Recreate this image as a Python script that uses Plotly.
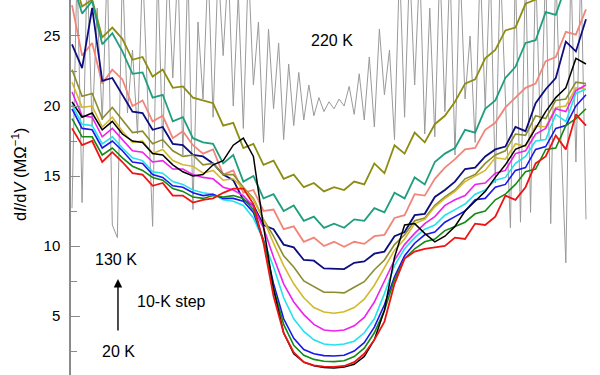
import plotly.graph_objects as go

# bias (arbitrary mV scale), 10-mV step for the colored curves, 5-mV step for 220 K
bias = list(range(-255, 256, 10))
bias_220 = list(range(-255, 256, 5))

didv_20K = [20.3, 19.2, 19.5, 18.3, 18.9, 18.0, 17.5, 17.4, 16.6, 16.5, 15.8, 15.3, 15.0, 15.1, 15.8, 16.1, 17.2, 17.7,
            16.4, 11.4, 6.9, 3.8, 2.3, 1.7, 1.45, 1.32, 1.29, 1.35, 1.55, 2.1, 3.3, 5.4, 9.2, 11.5, 11.6, 10.9,
            10.3, 10.7, 11.4, 12.5, 13.2, 13.9, 14.9, 15.8, 16.9, 17.2, 18.4, 19.6, 20.6, 21.3, 23.4, 23.0]
didv_30K = [18.4, 17.2, 17.5, 16.0, 16.7, 16.0, 15.2, 15.1, 14.3, 14.5, 13.6, 13.6, 13.1, 13.3, 13.4, 13.8, 14.1, 14.1,
            13.0, 10.2, 6.4, 3.8, 2.4, 1.7, 1.48, 1.39, 1.37, 1.43, 1.7, 2.3, 3.3, 4.6, 7.3, 9.1, 9.6, 9.8,
            9.9, 10.0, 10.6, 10.5, 11.6, 11.5, 12.1, 13.6, 13.3, 14.2, 15.9, 16.4, 17.9, 16.9, 19.4, 18.6]
didv_40K = [19.1, 17.8, 17.8, 16.5, 17.0, 16.3, 15.7, 15.4, 14.9, 14.7, 14.1, 13.9, 13.5, 13.4, 13.6, 13.5, 13.6, 13.4,
            12.6, 10.4, 7.0, 4.4, 2.9, 2.2, 1.9, 1.77, 1.74, 1.8, 2.1, 2.7, 3.8, 5.4, 7.6, 9.1, 9.8, 10.3,
            10.5, 11.1, 11.4, 11.7, 12.3, 12.5, 13.3, 13.7, 14.4, 15.3, 15.5, 16.9, 17.0, 18.6, 19.1, 19.8]
didv_50K = [19.8, 18.4, 18.3, 17.0, 17.5, 16.8, 16.0, 15.9, 15.1, 14.9, 14.3, 14.2, 13.8, 13.6, 13.7, 13.4, 13.4, 13.2,
            12.4, 10.4, 7.3, 4.8, 3.4, 2.6, 2.3, 2.17, 2.14, 2.2, 2.5, 3.1, 4.2, 5.8, 7.8, 9.3, 10.2, 10.8,
            11.0, 11.7, 12.1, 12.5, 13.3, 13.4, 14.2, 14.4, 15.4, 15.6, 16.9, 17.1, 18.4, 18.6, 20.0, 20.8]
didv_60K = [20.1, 18.7, 18.6, 17.3, 17.8, 17.0, 16.3, 16.1, 15.3, 15.2, 14.6, 14.4, 14.0, 13.8, 13.7, 13.3, 13.2, 12.9,
            12.0, 10.4, 8.5, 6.3, 4.8, 3.9, 3.3, 3.0, 2.93, 3.0, 3.2, 3.8, 4.8, 6.6, 8.6, 9.8, 10.6, 11.2,
            11.5, 12.2, 12.6, 13.0, 13.7, 14.0, 14.7, 14.9, 15.9, 16.4, 17.5, 17.6, 19.4, 18.9, 20.9, 21.2]
didv_70K = [21.0, 19.3, 19.2, 17.8, 18.4, 17.6, 16.8, 16.7, 16.0, 16.1, 15.5, 15.5, 15.1, 14.9, 14.8, 14.2, 14.0, 13.6,
            12.8, 11.3, 9.2, 7.3, 6.0, 5.1, 4.4, 4.0, 3.93, 4.0, 4.3, 4.9, 6.0, 7.5, 9.0, 10.1, 10.9, 11.6,
            12.1, 12.9, 13.3, 13.6, 14.4, 14.5, 15.2, 15.4, 16.6, 16.8, 18.0, 18.4, 19.8, 19.6, 21.1, 21.5]
didv_80K = [21.7, 19.9, 20.0, 18.5, 19.2, 18.2, 17.4, 17.5, 16.6, 16.9, 16.1, 15.8, 15.7, 15.2, 15.4, 14.7, 14.8, 14.1,
            13.3, 11.9, 10.2, 8.6, 7.3, 6.3, 5.6, 5.28, 5.2, 5.3, 5.6, 6.2, 7.2, 8.4, 9.7, 10.5, 11.6, 11.9,
            12.8, 13.4, 13.9, 14.6, 15.0, 15.4, 16.3, 16.2, 17.3, 17.1, 18.6, 18.5, 19.9, 20.0, 21.3, 21.2]
didv_90K = [22.6, 20.7, 20.9, 19.1, 19.9, 19.0, 18.1, 18.2, 17.3, 17.6, 16.8, 16.4, 16.5, 15.8, 15.9, 15.1, 15.1, 14.2,
            13.4, 11.9, 10.7, 9.3, 8.5, 7.5, 7.1, 6.7, 6.7, 6.65, 7.05, 7.45, 8.3, 9.0, 10.1, 10.8, 11.8, 12.0,
            12.9, 13.5, 14.0, 14.8, 15.1, 15.9, 16.5, 16.8, 18.0, 17.9, 19.3, 19.1, 20.4, 20.5, 21.7, 21.6]
didv_100K = [24.4, 22.7, 27.0, 21.8, 22.0, 20.8, 19.6, 19.5, 18.3, 18.5, 17.3, 17.2, 16.5, 16.4, 15.9, 15.1, 14.7, 13.3,
             12.9, 11.5, 11.2, 10.1, 9.9, 9.0, 8.95, 8.4, 8.4, 8.35, 8.8, 8.9, 9.45, 9.6, 10.7, 11.0, 12.2, 12.3,
             13.5, 14.0, 14.6, 15.5, 15.6, 16.4, 16.9, 17.1, 18.5, 18.2, 20.2, 21.2, 22.0, 24.6, 23.9, 26.2]
didv_110K = [27.2, 23.6, 24.5, 21.6, 22.6, 21.9, 20.0, 20.4, 18.9, 19.3, 17.7, 18.2, 17.2, 16.6, 16.9, 15.1, 15.4, 13.8,
             14.0, 12.5, 12.6, 11.2, 11.4, 10.3, 10.6, 10.0, 10.3, 9.95, 10.3, 10.15, 10.7, 10.8, 12.0, 12.2, 13.7, 13.6,
             14.8, 15.6, 16.2, 16.9, 17.0, 18.3, 18.8, 19.9, 20.6, 21.3, 21.6, 23.2, 23.5, 25.3, 25.1, 26.9]
didv_120K = [29.0, 26.6, 27.5, 24.4, 25.2, 23.9, 22.3, 22.4, 20.6, 20.8, 18.9, 19.2, 17.7, 17.4, 17.3, 15.9, 16.5, 14.6,
             15.0, 13.4, 13.7, 12.5, 12.9, 11.8, 12.1, 11.3, 11.6, 11.3, 11.9, 11.8, 12.7, 12.4, 13.8, 13.4, 14.9, 14.4,
             16.0, 16.6, 17.0, 18.3, 18.1, 19.8, 20.4, 22.0, 22.8, 24.5, 24.7, 26.7, 26.5, 28.6, 28.3, 30.0]
didv_130K = [29.5, 27.1, 27.6, 24.9, 25.6, 24.8, 23.3, 23.5, 22.1, 22.6, 21.3, 21.4, 20.6, 20.4, 20.2, 18.6, 18.8, 17.0,
             17.3, 15.8, 16.1, 14.8, 15.1, 14.2, 14.5, 13.9, 14.2, 14.0, 14.6, 14.4, 15.9, 15.2, 17.2, 16.6, 18.1, 17.4,
             18.7, 19.3, 20.3, 21.6, 21.9, 23.4, 24.0, 25.4, 25.6, 27.3, 27.6, 29.2, 29.4, 30.5, 30.2, 31.0]
didv_220K = [12.7, 30, 13.1, 30, 18.5, 27, 19.0, 30, 11.5, 10.6, 30, 19.5, 24, 18.0, 30, 20.0, 11.4, 30, 17.0, 30,
             22.0, 30, 16.5, 30, 12.6, 26, 20.5, 30, 19.2, 30, 23.6, 30, 20.0, 28, 18.4, 30, 21.5, 26, 17.4, 25.5,
             19.8, 24.5, 17.6, 23.0, 18.6, 22.4, 19.0, 21.5, 19.3, 20.6, 19.6, 20.3, 19.8, 20.5, 20.0, 21.4, 19.4, 22.3,
             19.0, 23.5, 18.5, 25.5, 20.8, 24.0, 17.6, 30, 19.2, 30, 21.5, 30, 18.0, 27, 17.8, 30, 19.6, 30, 16.5, 30,
             20.5, 25, 17.4, 30, 19.8, 30, 14.5, 30, 20.0, 11.3, 30, 11.7, 30, 12.4, 30, 17.5, 30, 11.6, 30, 18.0,
             8.8, 30, 16.0, 30, 11.9]

# drawing order (back to front) and colours
series = [
    ("130 K", didv_130K, "#8c8c12", 1.8),
    ("120 K", didv_120K, "#1f9e7e", 1.8),
    ("110 K", didv_110K, "#f2857a", 1.8),
    ("100 K", didv_100K, "#0d0d80", 1.8),
    ("90 K", didv_90K, "#8b8b30", 1.6),
    ("80 K", didv_80K, "#d2b82c", 1.6),
    ("70 K", didv_70K, "#ee22ee", 1.6),
    ("60 K", didv_60K, "#22e2ee", 1.6),
    ("50 K", didv_50K, "#1818ee", 1.6),
    ("40 K", didv_40K, "#138a13", 1.6),
    ("20 K", didv_20K, "#000000", 1.5),
    ("30 K", didv_30K, "#ee1414", 1.8),
]

FONT = "Liberation Sans, Arial, Helvetica, sans-serif"

fig = go.Figure()
fig.add_trace(go.Scatter(x=bias_220, y=didv_220K, mode="lines", name="220 K",
                         line=dict(color="#9a9a9a", width=1)))
for name, ys, col, w in series:
    fig.add_trace(go.Scatter(x=bias, y=ys, mode="lines", name=name,
                             line=dict(color=col, width=w)))

fig.update_layout(
    width=600, height=375,
    margin=dict(l=71, r=0, t=0, b=0),
    paper_bgcolor="white", plot_bgcolor="white",
    showlegend=False,
    font=dict(family=FONT, size=15, color="black"),
    xaxis=dict(range=[-256, 268.9], visible=False),
    yaxis=dict(range=[0.786, 27.571], showgrid=False, zeroline=False,
               showline=True, linecolor="#8a8a8a", linewidth=1.5,
               ticks="inside", ticklen=9, tickwidth=1.2, tickcolor="#8a8a8a",
               tick0=0, dtick=5, ticklabelstandoff=6,
               tickfont=dict(family=FONT, size=15, color="black"),
               minor=dict(ticks="inside", ticklen=6, tickwidth=1.2, tickcolor="#8a8a8a",
                          dtick=2.5, tick0=0, showgrid=False)),
)

annots = [
    dict(text="220 K", x=0.4934, y=0.8907, xanchor="center", yanchor="middle"),
    dict(text="130 K", x=0.0851, y=0.3093, xanchor="center", yanchor="middle"),
    dict(text="20 K", x=0.0898, y=0.064, xanchor="center", yanchor="middle"),
    dict(text="10-K step", x=0.121, y=0.1947, xanchor="left", yanchor="middle"),
]
for a in annots:
    fig.add_annotation(xref="paper", yref="paper", showarrow=False,
                       font=dict(family=FONT, size=16, color="black"), **a)

# arrow 20 K -> 130 K
fig.add_annotation(xref="paper", yref="paper", x=0.0888, y=1 - 279 / 375, text="",
                   showarrow=True, ax=0, ay=53, arrowhead=2, arrowsize=1.2,
                   arrowwidth=1.4, arrowcolor="black")

# y-axis title
fig.add_annotation(xref="paper", yref="paper", x=-0.097, y=0.535, textangle=-90,
                   text="d<i>I</i>/d<i>V</i> (MΩ<sup>−1</sup>)", showarrow=False,
                   xanchor="center", yanchor="middle",
                   font=dict(family=FONT, size=16.5, color="black"))

fig.write_html("out.html")
